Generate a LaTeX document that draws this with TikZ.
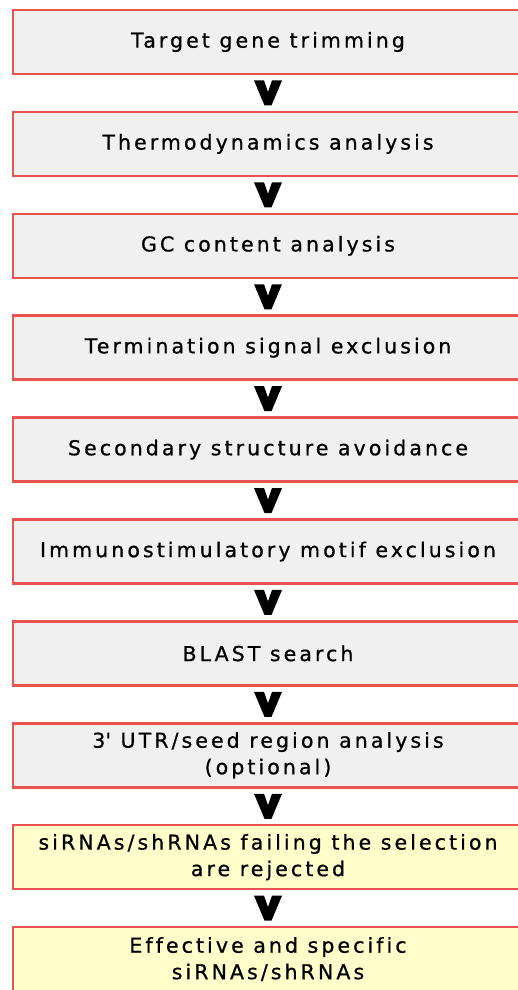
\documentclass[tikz,border=0pt]{standalone}
\usepackage{fontspec}
\newfontfamily\boxfont{DejaVu Sans}[LetterSpace=15,Ligatures={NoCommon},FakeBold=0.8]
\usepackage{tikz}
\usetikzlibrary{calc}
\usetikzlibrary{positioning}

\definecolor{boxred}{RGB}{234,82,82}
\definecolor{boxgray}{RGB}{240,240,240}
\definecolor{boxyellow}{RGB}{255,255,204}

\begin{document}
\begin{tikzpicture}[
    x=1pt, y=1pt,
    stepbox/.style={
        draw=boxred,
        fill=#1,
        line width=2.5pt,
        minimum width=510pt,
        minimum height=64pt,
        inner sep=0pt,
        align=center,
        font=\boxfont\fontsize{20.5pt}{26.5pt}\selectfont
    },
    stepbox/.default=boxgray,
    node distance=35.4pt
]
  \useasboundingbox (0,0) rectangle (518,-990);

  \node[stepbox] (trim) at (268,-42) {Target gene trimming};
  \node[stepbox,below=of trim] (thermo) {Thermodynamics analysis};
  \node[stepbox,below=of thermo] (gc) {GC content analysis};
  \node[stepbox,below=of gc] (term) {Termination signal exclusion};
  \node[stepbox,below=of term] (secstruct) {Secondary structure avoidance};
  \node[stepbox,below=of secstruct] (immuno) {Immunostimulatory motif exclusion};
  \node[stepbox,below=of immuno] (blast) {BLAST search};
  \node[stepbox,below=of blast] (utr) {3\textquotesingle{} UTR/seed region analysis\\(optional)};
  \node[stepbox=boxyellow,below=of utr] (reject) {siRNAs/shRNAs failing the selection\\are rejected};
  \node[stepbox=boxyellow,below=of reject] (final) {Effective and specific\\siRNAs/shRNAs};

  \foreach \Upper/\Lower in {trim/thermo,thermo/gc,gc/term,term/secstruct,secstruct/immuno,immuno/blast,blast/utr,utr/reject,reject/final} {
    \fill ($(\Upper.south)!0.5!(\Lower.north)$) ++(-14,12.5) -- ++(10,0) -- ++(4,-11.5) -- ++(4,11.5) -- ++(10,0) -- ++(-10.5,-25) -- ++(-7,0) -- cycle;
  }
\end{tikzpicture}
\end{document}
